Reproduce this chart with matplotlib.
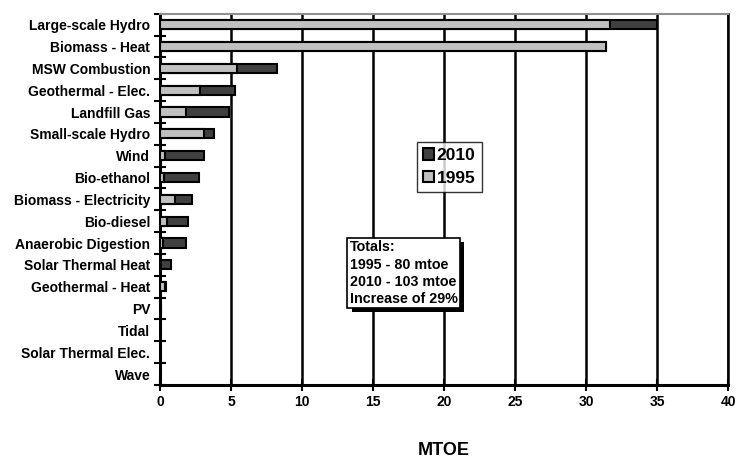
import matplotlib
matplotlib.use("Agg")
import matplotlib.pyplot as plt
import matplotlib.patheffects as pe
import numpy as np

plt.rcParams['font.family'] = ['Liberation Sans', 'DejaVu Sans']
plt.rcParams['font.weight'] = 'bold'

categories = ["Large-scale Hydro", "Biomass - Heat", "MSW Combustion", "Geothermal - Elec.",
              "Landfill Gas", "Small-scale Hydro", "Wind", "Bio-ethanol",
              "Biomass - Electricity", "Bio-diesel", "Anaerobic Digestion",
              "Solar Thermal Heat", "Geothermal - Heat", "PV", "Tidal",
              "Solar Thermal Elec.", "Wave"]
values_1995 = [31.7, 31.4, 5.4, 2.8, 1.8, 3.1, 0.38, 0.3, 1.08, 0.47, 0.23,
               0.05, 0.33, 0.03, 0.02, 0.02, 0.01]
values_2010 = [35.0, 31.4, 8.25, 5.3, 4.85, 3.8, 3.1, 2.77, 2.28, 2.0, 1.86,
               0.8, 0.45, 0.06, 0.03, 0.03, 0.02]
totals_text = "Totals:\n1995 - 80 mtoe\n2010 - 103 mtoe\nIncrease of 29%"

DARK = "#404040"
LIGHT = "#c0c0c0"

fig = plt.figure(figsize=(7.36, 4.61), dpi=100)
ax = fig.add_axes([0.2174, 0.165, 0.772, 0.805])

y = np.arange(len(categories))
ax.barh(y, values_2010, height=0.42, color=DARK, edgecolor="black", linewidth=1.5,
        label="2010", zorder=3)
ax.barh(y, values_1995, height=0.42, color=LIGHT, edgecolor="black", linewidth=1.5,
        label="1995", zorder=4)

ax.set_xlim(0, 40)
ax.set_ylim(len(categories) - 0.5, -0.5)

# vertical gridlines
for gx in range(5, 41, 5):
    ax.axvline(gx, color="black", linewidth=1.8, zorder=1)

ax.set_xticks(range(0, 41, 5))
ax.tick_params(axis="x", direction="inout", length=8, width=1.5, labelsize=10, pad=3)
for lab in ax.get_xticklabels():
    lab.set_fontweight("bold")

# y ticks at boundaries, labels in the middle
ax.set_yticks(np.arange(-0.5, len(categories), 1.0))
ax.set_yticklabels([])
ax.set_yticks(y, minor=True)
ax.set_yticklabels(categories, minor=True, fontsize=10, fontweight="bold")
ax.tick_params(axis="y", which="major", direction="inout", length=8, width=1.5)
ax.tick_params(axis="y", which="minor", length=0, pad=7)

for side in ["left", "bottom"]:
    ax.spines[side].set_linewidth(2.2)
ax.spines["top"].set_color("#909090")
ax.spines["top"].set_linewidth(1.5)
ax.spines["right"].set_linewidth(1.8)

ax.set_xlabel("MTOE", fontsize=13, fontweight="bold")
ax.xaxis.set_label_coords(0.5, -0.155)

handles, labels = ax.get_legend_handles_labels()
leg = ax.legend(handles, labels, loc="upper left", bbox_to_anchor=(0.452, 0.655),
                fancybox=False, frameon=True, edgecolor="black",
                prop={"weight": "bold", "size": 12.5}, handlelength=0.65,
                handleheight=0.65, handletextpad=0.15, borderpad=0.35,
                labelspacing=0.45, borderaxespad=0)
leg.get_frame().set_linewidth(1.0)
leg.set_zorder(6)

# totals box with a drop shadow
txt = ax.text(13.35, 11.38, totals_text, fontsize=10.3, fontweight="bold", va="center",
              ha="left", linespacing=1.3, color="black", zorder=7,
              bbox=dict(boxstyle="square,pad=0.15", facecolor="white", edgecolor="black",
                        linewidth=1.2))
txt.get_bbox_patch().set_path_effects([
    pe.SimplePatchShadow(offset=(3, -3), shadow_rgbFace="black", alpha=1.0),
    pe.Normal()])

fig.savefig("out.png", dpi=100)
